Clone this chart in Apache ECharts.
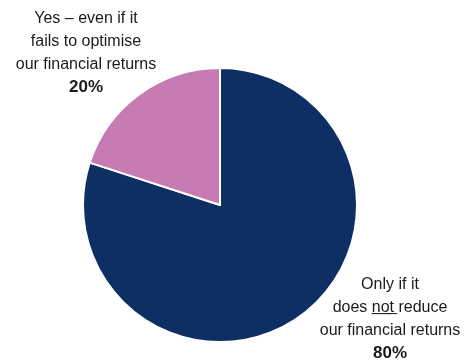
<!DOCTYPE html>
<html>
<head>
<meta charset="utf-8">
<script src="https://cdn.jsdelivr.net/npm/echarts@6/dist/echarts.min.js"></script>
<style>
  html, body { margin: 0; padding: 0; background: #fff; }
  #chart { width: 470px; height: 360px; }
</style>
</head>
<body>
<div id="chart"></div>
<script>
// Answer shares (percent), clockwise from 12 o'clock
const answers = ['Only if it does not reduce our financial returns', 'Yes – even if it fails to optimise our financial returns'];
const shares = [80, 20];
const sliceColors = ['#0E2F63', '#C67BB3'];
// Label text lines for each answer
const labelLines = [
  ['Only if it', 'does n\u0332o\u0332t\u0332 reduce', 'our financial returns'],
  ['Yes – even if it', 'fails to optimise', 'our financial returns']
];
// Where each label block is centred (px)
const labelAnchors = [[390, 273], [86, 7]];

const FONT = '"Liberation Sans Narrow", "Liberation Sans", Arial, sans-serif';

const chart = echarts.init(document.getElementById('chart'), null, { renderer: 'canvas' });
chart.setOption({
  animation: false,
  series: [{
    type: 'pie',
    center: [220, 205],
    radius: [0, 137],
    startAngle: 90,
    clockwise: true,
    itemStyle: { borderColor: '#ffffff', borderWidth: 2 },
    labelLine: { show: false },
    label: {
      show: true,
      position: 'outside',
      align: 'center',
      overflow: 'none',
      fontFamily: FONT,
      formatter: p => labelLines[p.dataIndex].map(t => '{t|' + t + '}').join('\n') + '\n{b|' + p.value + '%}',
      rich: {
        t: { fontFamily: FONT, fontSize: 16, color: '#1a1a1a', lineHeight: 23, align: 'center' },
        b: { fontFamily: FONT, fontSize: 17, fontWeight: 'bold', color: '#1a1a1a', lineHeight: 23, align: 'center' }
      }
    },
    labelLayout: p => ({
      x: labelAnchors[p.dataIndex][0],
      y: labelAnchors[p.dataIndex][1],
      align: 'center',
      verticalAlign: 'top'
    }),
    data: shares.map((v, i) => ({
      name: answers[i],
      value: v,
      itemStyle: { color: sliceColors[i] }
    }))
  }]
});
</script>
</body>
</html>
